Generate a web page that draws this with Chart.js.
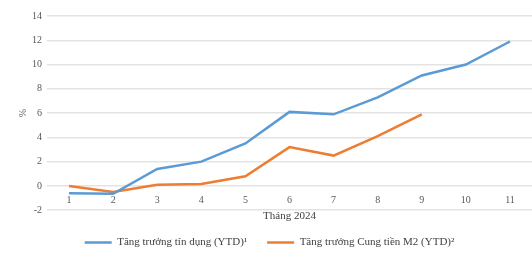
<!DOCTYPE html>
<html><head><meta charset="utf-8">
<script src="https://cdn.jsdelivr.net/npm/chart.js@4/dist/chart.umd.min.js"></script>
<style>html,body{margin:0;padding:0;background:#fff}#w{width:532px;height:259px}</style>
</head><body><div id="w"><canvas id="c"></canvas></div>
<script>
const months = ["1","2","3","4","5","6","7","8","9","10","11"];
const creditGrowth = [-0.6,-0.65,1.4,2.0,3.5,6.1,5.9,7.3,9.1,10.0,11.9];
const m2Growth = [0.0,-0.5,0.1,0.15,0.8,3.2,2.5,4.1,5.9,null,null];
const yTicks = {min:-2,max:14,step:2};
const serif = "'Liberation Serif','DejaVu Serif',serif";
new Chart(document.getElementById('c'),{
  type:'line',
  data:{labels:months,datasets:[
    {label:'Tăng trưởng tín dụng (YTD)¹',data:creditGrowth,borderColor:'#5B9BD5',backgroundColor:'#5B9BD5',borderWidth:2.5,pointRadius:0,tension:0},
    {label:'Tăng trưởng Cung tiền M2 (YTD)²',data:m2Growth,borderColor:'#ED7D31',backgroundColor:'#ED7D31',borderWidth:2.5,pointRadius:0,tension:0}
  ]},
  options:{
    responsive:true,maintainAspectRatio:false,animation:false,
    layout:{padding:{top:16,right:0,left:7,bottom:1}},
    plugins:{
      legend:{position:'bottom',
        title:{display:true,text:' ',font:{size:4},padding:1},
        labels:{boxWidth:27,boxHeight:0,font:{family:serif,size:11},color:'#404040',padding:20,
        generateLabels(chart){return chart.data.datasets.map((d,i)=>({text:d.label,strokeStyle:d.borderColor,fillStyle:d.borderColor,lineWidth:2.5,datasetIndex:i,fontColor:'#404040'}));}}},
      tooltip:{enabled:false}
    },
    scales:{
      x:{position:{y:0},offset:true,grid:{display:false,drawTicks:false},border:{display:false},
        ticks:{font:{family:serif,size:10},color:'#595959',padding:8},
        title:{display:true,text:'Tháng 2024',font:{family:serif,size:11},color:'#404040',padding:{top:-4,bottom:0}}},
      y:{min:yTicks.min,max:yTicks.max,ticks:{stepSize:yTicks.step,font:{family:serif,size:10},color:'#595959',padding:5},
        grid:{color:'#e3e3e3',lineWidth:1.5,drawTicks:false},border:{display:false},
        title:{display:true,text:'%',font:{family:serif,size:10},color:'#595959',padding:{top:10,bottom:-2}}}
    }
  }
});
</script></body></html>
